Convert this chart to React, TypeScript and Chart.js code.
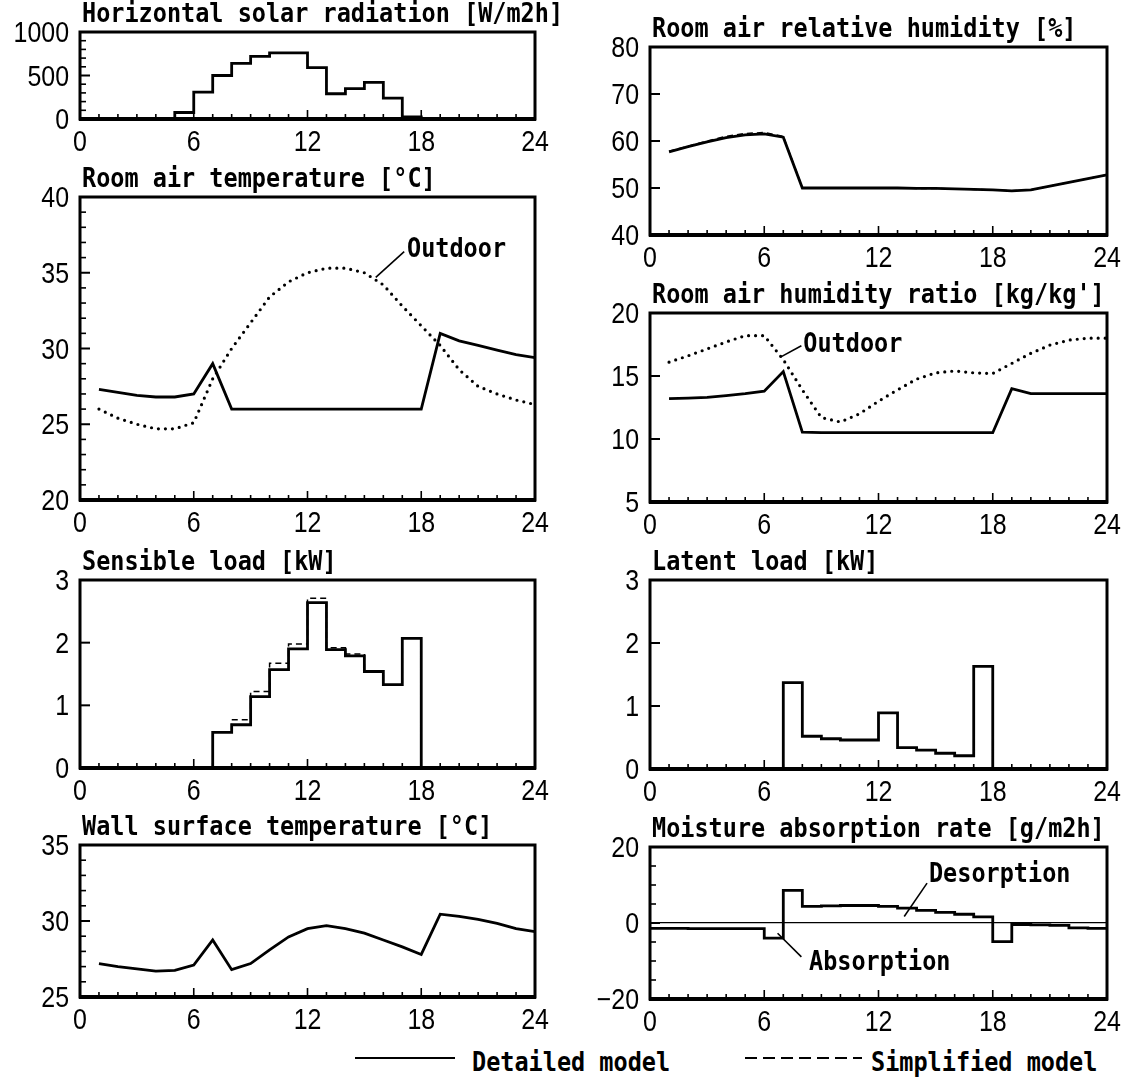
import React, { useEffect, useRef } from "react";
import { Chart, registerables } from "chart.js";

Chart.register(...registerables);

// ---------------- data ----------------
const HOURS_0_24 = [0, 1, 2, 3, 4, 5, 6, 7, 8, 9, 10, 11, 12, 13, 14, 15, 16, 17, 18, 19, 20, 21, 22, 23, 24];
const HOURS_1_24 = [1, 2, 3, 4, 5, 6, 7, 8, 9, 10, 11, 12, 13, 14, 15, 16, 17, 18, 19, 20, 21, 22, 23, 24];
const X_TICK_LABELS = ["0", "6", "12", "18", "24"];

// hourly step values (value of hour h applies to [h, h+1])
const solarRadiation = [0, 0, 0, 0, 0, 75, 310, 500, 640, 720, 760, 760, 590, 290, 350, 420, 240, 25, 0, 0, 0, 0, 0, 0, 0];

const roomTempDetailed = [27.3, 27.1, 26.9, 26.8, 26.8, 27.0, 29.0, 26.0, 26.0, 26.0, 26.0, 26.0, 26.0, 26.0, 26.0, 26.0, 26.0, 26.0, 31.0, 30.5, 30.2, 29.9, 29.6, 29.4];
const roomTempOutdoor = [26.0, 25.4, 25.0, 24.7, 24.7, 25.1, 28.0, 30.0, 31.7, 33.4, 34.4, 35.0, 35.3, 35.3, 35.0, 34.2, 32.8, 31.5, 30.2, 28.6, 27.5, 27.0, 26.6, 26.3];

const sensibleDetailed = [0, 0, 0, 0, 0, 0, 0, 0.57, 0.69, 1.14, 1.57, 1.9, 2.64, 1.89, 1.79, 1.54, 1.33, 2.07, 0, 0, 0, 0, 0, 0, 0];
const sensibleSimplified = [0, 0, 0, 0, 0, 0, 0, 0.57, 0.77, 1.22, 1.67, 1.98, 2.71, 1.92, 1.82, 1.55, 1.33, 2.07, 0, 0, 0, 0, 0, 0, 0];

const wallTemp = [27.2, 27.0, 26.85, 26.7, 26.75, 27.1, 28.75, 26.8, 27.2, 28.1, 28.95, 29.5, 29.7, 29.5, 29.2, 28.75, 28.3, 27.8, 30.45, 30.3, 30.1, 29.85, 29.5, 29.3];

const rhDetailed = [57.7, 58.8, 59.8, 60.7, 61.3, 61.5, 60.8, 50.0, 50.0, 50.0, 50.0, 50.0, 50.0, 49.9, 49.9, 49.8, 49.7, 49.6, 49.4, 49.6, 50.4, 51.2, 52.0, 52.8];
const rhSimplified = [57.8, 58.9, 60.0, 61.0, 61.6, 61.8, 61.0, 50.1, 50.0, 50.0, 50.0, 50.0, 50.0, 49.9, 49.9, 49.8, 49.7, 49.6, 49.4, 49.6, 50.4, 51.2, 52.0, 52.8];

const humRatioDetailed = [13.2, 13.25, 13.3, 13.45, 13.6, 13.8, 15.35, 10.55, 10.5, 10.5, 10.5, 10.5, 10.5, 10.5, 10.5, 10.5, 10.5, 10.5, 14.0, 13.6, 13.6, 13.6, 13.6, 13.6];
const humRatioOutdoor = [16.1, 16.6, 17.15, 17.7, 18.2, 18.2, 16.3, 13.9, 11.7, 11.35, 12.0, 13.0, 13.9, 14.75, 15.25, 15.4, 15.25, 15.2, 16.0, 16.8, 17.45, 17.85, 18.0, 18.0];

const latentDetailed = [0, 0, 0, 0, 0, 0, 0, 1.37, 0.52, 0.48, 0.46, 0.46, 0.89, 0.34, 0.3, 0.25, 0.21, 1.63, 0, 0, 0, 0, 0, 0, 0];

const moistureDetailed = [-1.4, -1.4, -1.5, -1.5, -1.5, -1.5, -4.0, 8.6, 4.4, 4.5, 4.6, 4.6, 4.4, 3.9, 3.3, 2.8, 2.3, 1.6, -4.9, -0.4, -0.5, -0.6, -1.3, -1.4, -1.4];

// ---------------- styling ----------------
const TICK_FONT = '"Liberation Sans", Arimo, Arial, sans-serif';
const TICK_SIZE = 29;
const TICK_SQUEEZE = 0.86;
const TEXT_FONT = '"DejaVu Sans Mono", "Liberation Mono", monospace';
const TEXT_SIZE = 23.5;
const TEXT_STRETCH = 1.12;

type Series = {
  xs: number[];
  ys: number[];
  kind: "solid" | "dotted" | "dashed";
  stepped?: boolean;
};

type Note = { text: string; x: number; y: number; lead?: [number, number, number, number] };

type PanelCfg = {
  title: string;
  box: [number, number, number, number]; // L T R B
  canvasLeft: number;
  canvasRight: number;
  yMin: number;
  yMax: number;
  yStep: number;
  yMinor: number;
  series: Series[];
  notes?: Note[];
  zeroLine?: boolean;
};

const panels: PanelCfg[] = [
  {
    title: "Horizontal solar radiation [W/m2h]",
    box: [80, 32, 535, 119],
    canvasLeft: 0, canvasRight: 572,
    yMin: 0, yMax: 1000, yStep: 500, yMinor: 100,
    series: [{ xs: HOURS_0_24, ys: solarRadiation, kind: "solid", stepped: true }],
  },
  {
    title: "Room air temperature [°C]",
    box: [80, 197, 535, 500],
    canvasLeft: 0, canvasRight: 572,
    yMin: 20, yMax: 40, yStep: 5, yMinor: 1,
    series: [
      { xs: HOURS_1_24, ys: roomTempOutdoor, kind: "dotted" },
      { xs: HOURS_1_24, ys: roomTempDetailed, kind: "solid" },
    ],
    notes: [{ text: "Outdoor", x: 17.25, y: 36.5, lead: [17.1, 36.4, 15.6, 34.7] }],
  },
  {
    title: "Sensible load [kW]",
    box: [80, 580, 535, 768],
    canvasLeft: 0, canvasRight: 572,
    yMin: 0, yMax: 3, yStep: 1, yMinor: 1,
    series: [
      { xs: HOURS_0_24, ys: sensibleSimplified, kind: "dashed", stepped: true },
      { xs: HOURS_0_24, ys: sensibleDetailed, kind: "solid", stepped: true },
    ],
  },
  {
    title: "Wall surface temperature [°C]",
    box: [80, 845, 535, 997],
    canvasLeft: 0, canvasRight: 572,
    yMin: 25, yMax: 35, yStep: 5, yMinor: 1,
    series: [{ xs: HOURS_1_24, ys: wallTemp, kind: "solid" }],
  },
  {
    title: "Room air relative humidity [%]",
    box: [650, 47, 1107, 235],
    canvasLeft: 572, canvasRight: 1136,
    yMin: 40, yMax: 80, yStep: 10, yMinor: 10,
    series: [
      { xs: HOURS_1_24, ys: rhSimplified, kind: "dashed" },
      { xs: HOURS_1_24, ys: rhDetailed, kind: "solid" },
    ],
  },
  {
    title: "Room air humidity ratio [kg/kg']",
    box: [650, 313, 1107, 502],
    canvasLeft: 572, canvasRight: 1136,
    yMin: 5, yMax: 20, yStep: 5, yMinor: 5,
    series: [
      { xs: HOURS_1_24, ys: humRatioOutdoor, kind: "dotted" },
      { xs: HOURS_1_24, ys: humRatioDetailed, kind: "solid" },
    ],
    notes: [{ text: "Outdoor", x: 8.05, y: 17.45, lead: [7.95, 17.4, 6.85, 16.5] }],
  },
  {
    title: "Latent load [kW]",
    box: [650, 580, 1107, 769],
    canvasLeft: 572, canvasRight: 1136,
    yMin: 0, yMax: 3, yStep: 1, yMinor: 1,
    series: [{ xs: HOURS_0_24, ys: latentDetailed, kind: "solid", stepped: true }],
  },
  {
    title: "Moisture absorption rate [g/m2h]",
    box: [650, 847, 1107, 999],
    canvasLeft: 572, canvasRight: 1136,
    yMin: -20, yMax: 20, yStep: 20, yMinor: 5,
    series: [{ xs: HOURS_0_24, ys: moistureDetailed, kind: "solid", stepped: true }],
    notes: [
      { text: "Desorption", x: 14.65, y: 12.6, lead: [14.55, 10.5, 13.35, 1.7] },
      { text: "Absorption", x: 8.35, y: -10.5, lead: [7.95, -8.9, 6.7, -2.7] },
    ],
    zeroLine: true,
  },
];

const X_AXIS_H = 40;

function fmtTick(v: number) {
  return v < 0 ? "\u2212" + String(Math.abs(v)) : String(v);
}

function framePlugin(cfg: PanelCfg) {
  return {
    id: "frame",
    afterDraw(chart: any) {
      const { ctx, chartArea: a } = chart;
      const xs = chart.scales.x;
      const ys = chart.scales.y;
      ctx.save();
      ctx.strokeStyle = "#000";
      ctx.fillStyle = "#000";
      // x minor ticks (hourly), pointing inward from the bottom
      ctx.lineWidth = 1.6;
      for (let h = 0; h <= 24; h++) {
        const px = xs.getPixelForValue(h);
        const len = h % 6 === 0 ? 9 : 5;
        ctx.beginPath();
        ctx.moveTo(px, a.bottom);
        ctx.lineTo(px, a.bottom - len);
        ctx.stroke();
      }
      // y ticks on the left, pointing inward
      const n = Math.round((cfg.yMax - cfg.yMin) / cfg.yMinor);
      for (let i = 0; i <= n; i++) {
        const v = cfg.yMin + i * cfg.yMinor;
        const py = ys.getPixelForValue(v);
        const q = (v - cfg.yMin) / cfg.yStep;
        const major = Math.abs(q - Math.round(q)) < 1e-6;
        const len = major ? 10 : 6;
        ctx.lineWidth = major ? 2 : 1.6;
        ctx.beginPath();
        ctx.moveTo(a.left, py);
        ctx.lineTo(a.left + len, py);
        ctx.stroke();
      }
      // box
      ctx.lineWidth = 3;
      ctx.strokeRect(a.left, a.top, a.right - a.left, a.bottom - a.top);
      ctx.lineWidth = 4;
      ctx.beginPath();
      ctx.moveTo(a.left - 1, a.bottom);
      ctx.lineTo(a.right + 1, a.bottom);
      ctx.stroke();

      // tick labels (library ticks, drawn narrow)
      ctx.font = `${TICK_SIZE}px ${TICK_FONT}`;
      ctx.textBaseline = "alphabetic";
      for (const t of xs.ticks) {
        const px = xs.getPixelForValue(t.value);
        const label = X_TICK_LABELS[Math.round(t.value / 6)] ?? "";
        ctx.save();
        ctx.translate(px, a.bottom + 32);
        ctx.scale(TICK_SQUEEZE, 1);
        ctx.textAlign = "center";
        ctx.fillText(label, 0, 0);
        ctx.restore();
      }
      for (const t of ys.ticks) {
        const py = ys.getPixelForValue(t.value);
        ctx.save();
        ctx.translate(a.left - 11, py + 10);
        ctx.scale(TICK_SQUEEZE, 1);
        ctx.textAlign = "right";
        ctx.fillText(fmtTick(t.value), 0, 0);
        ctx.restore();
      }

      // title
      ctx.font = `bold ${TEXT_SIZE}px ${TEXT_FONT}`;
      ctx.textBaseline = "alphabetic";
      ctx.textAlign = "left";
      ctx.save();
      ctx.translate(a.left + 2, a.top - 10);
      ctx.scale(1, TEXT_STRETCH);
      ctx.fillText(cfg.title, 0, 0);
      ctx.restore();
      // notes
      for (const nt of cfg.notes || []) {
        const px = xs.getPixelForValue(nt.x);
        const py = ys.getPixelForValue(nt.y);
        ctx.save();
        ctx.translate(px, py);
        ctx.scale(1, TEXT_STRETCH);
        ctx.textBaseline = "middle";
        ctx.fillText(nt.text, 0, 0);
        ctx.restore();
        if (nt.lead) {
          ctx.lineWidth = 1.6;
          ctx.beginPath();
          ctx.moveTo(xs.getPixelForValue(nt.lead[0]), ys.getPixelForValue(nt.lead[1]));
          ctx.lineTo(xs.getPixelForValue(nt.lead[2]), ys.getPixelForValue(nt.lead[3]));
          ctx.stroke();
        }
      }
      ctx.restore();
    },
  };
}

function buildConfig(cfg: PanelCfg, topPad: number, yAxisW: number, rightPad: number): any {
  const datasets = cfg.series.map((s) => {
    const base: any = {
      data: s.xs.map((x, i) => ({ x, y: s.ys[i] })),
      borderColor: "#000",
      backgroundColor: "#000",
      pointRadius: 0,
      tension: 0,
      fill: false,
      stepped: s.stepped ? true : false,
    };
    if (s.kind === "solid") {
      base.borderWidth = 2.8;
    } else if (s.kind === "dotted") {
      base.borderWidth = 3.2;
      base.borderDash = [0, 7];
      base.borderCapStyle = "round";
    } else {
      base.borderWidth = 1.5;
      base.borderDash = [6, 4];
    }
    return base;
  });
  return {
    type: "line",
    data: { datasets },
    options: {
      animation: false,
      responsive: false,
      devicePixelRatio: 1,
      events: [],
      layout: { padding: { top: topPad, right: rightPad, left: 0, bottom: 0 } },
      plugins: { legend: { display: false }, tooltip: { enabled: false }, title: { display: false } },
      scales: {
        x: {
          type: "linear",
          min: 0,
          max: 24,
          grid: { display: false },
          border: { display: false },
          ticks: { stepSize: 6, autoSkip: false, maxRotation: 0, display: false },
          afterFit: (s: any) => {
            s.height = X_AXIS_H;
          },
        },
        y: {
          type: "linear",
          min: cfg.yMin,
          max: cfg.yMax,
          grid: cfg.zeroLine
            ? {
                display: true,
                drawTicks: false,
                lineWidth: 1.3,
                color: (c: any) => (c.tick && c.tick.value === 0 ? "#000" : "rgba(0,0,0,0)"),
              }
            : { display: false },
          border: { display: false },
          ticks: { stepSize: cfg.yStep, autoSkip: false, display: false },
          afterFit: (s: any) => {
            s.width = yAxisW;
          },
        },
      },
    },
    plugins: [framePlugin(cfg)],
  };
}

function Panel({ cfg }: { cfg: PanelCfg }) {
  const ref = useRef<HTMLCanvasElement>(null);
  const [L, T, R, B] = cfg.box;
  const topPad = Math.min(45, T);
  const left = cfg.canvasLeft;
  const yAxisW = L - left;
  const rightPad = cfg.canvasRight - R;
  const top = T - topPad;
  const width = cfg.canvasRight - left;
  const height = B - T + topPad + X_AXIS_H;
  useEffect(() => {
    const chart = new Chart(ref.current as HTMLCanvasElement, buildConfig(cfg, topPad, yAxisW, rightPad));
    return () => chart.destroy();
  }, []);
  return (
    <canvas
      ref={ref}
      width={width}
      height={height}
      style={{ position: "absolute", left, top, width: `${width}px`, height: `${height}px` }}
    />
  );
}

const legendText: React.CSSProperties = {
  position: "absolute",
  top: 1047,
  height: 30,
  lineHeight: "30px",
  fontFamily: TEXT_FONT,
  fontWeight: "bold",
  fontSize: TEXT_SIZE,
  whiteSpace: "nowrap",
  transform: `scaleY(${TEXT_STRETCH})`,
  color: "#000",
};

export default function App() {
  return (
    <div
      style={{
        position: "absolute",
        left: 0,
        top: 0,
        width: 1136,
        height: 1081,
        background: "#fff",
        overflow: "hidden",
      }}
    >
      {panels.map((p, i) => (
        <Panel key={i} cfg={p} />
      ))}
      <svg style={{ position: "absolute", left: 0, top: 1040, width: 1136, height: 40 }} width={1136} height={40}>
        <line x1={355} y1={18} x2={455} y2={18} stroke="#000" strokeWidth={2} />
        <line x1={745} y1={18} x2={862} y2={18} stroke="#000" strokeWidth={2} strokeDasharray="12 6" />
      </svg>
      <div style={{ ...legendText, left: 472 }}>Detailed model</div>
      <div style={{ ...legendText, left: 871 }}>Simplified model</div>
    </div>
  );
}
